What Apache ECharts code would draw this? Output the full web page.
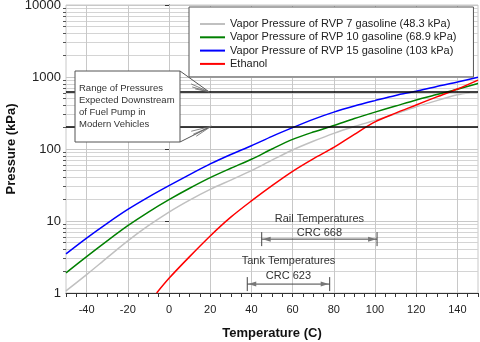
<!DOCTYPE html>
<html>
<head>
<meta charset="utf-8">
<script src="https://cdn.jsdelivr.net/npm/echarts@6/dist/echarts.min.js"></script>
<style>
  html, body { margin: 0; padding: 0; background: #fff; }
  #chart { width: 480px; height: 342px; }
</style>
</head>
<body>
<div id="chart"></div>
<script>
// Vapor pressure (kPa) against temperature (°C)
const gasTemps = [-50, -40, -30, -20, -10, 0, 10, 20, 30, 40, 50, 60, 70, 80, 90, 100, 110, 120, 130, 140, 150];
const rvp15 = [3.5, 5.8, 9.3, 14.5, 21.5, 31, 44, 62, 84, 111, 150, 198, 258, 325, 395, 470, 555, 635, 740, 850, 990];
const rvp10 = [1.9, 3.2, 5.3, 8.6, 13.3, 19.8, 28.5, 40, 54, 72, 100, 136, 172, 212, 265, 325, 395, 480, 570, 675, 810];
const rvp7Temps = [-50, -40, -30, -20, -10, 0, 10, 20, 30, 40, 50, 60, 70, 80, 90, 100, 110, 120, 130, 140, 146];
const rvp7 = [1.07, 1.8, 3.1, 5.3, 8.6, 13.3, 19.5, 27.5, 37, 50, 70, 97, 128, 165, 205, 250, 308, 385, 470, 565, 610];
const ethanolTemps = [-6, 0, 10, 20, 30, 40, 50, 60, 70, 80, 90, 100, 110, 120, 130, 140, 150];
const ethanol = [1.0, 1.6, 3.2, 6.2, 11.3, 19, 31, 49, 73, 105, 160, 238, 315, 408, 530, 680, 905];

const seriesNames = [
  'Vapor Pressure of RVP 7 gasoline (48.3 kPa)',
  'Vapor Pressure of RVP 10 gasoline (68.9 kPa)',
  'Vapor Pressure of RVP 15 gasoline (103 kPa)',
  'Ethanol'
];

// Fuel-pump pressure band (kPa) and temperature ranges (°C)
const pumpPressures = [620, 207];
const railRange = [45, 101];
const tankRange = [38, 78];
const calloutLines = ['Range of Pressures', 'Expected Downstream', 'of Fuel Pump in', 'Modern Vehicles'];
const railLabels = ['Rail Temperatures', 'CRC 668'];
const tankLabels = ['Tank Temperatures', 'CRC 623'];

// Axis ticks and grid lines
const xGridValues = [-40, -20, 0, 20, 40, 60, 80, 100, 120, 140];
const yMinorValues = [2, 3, 4, 5, 6, 7, 8, 9, 20, 30, 40, 50, 60, 70, 80, 90,
  200, 300, 400, 500, 600, 700, 800, 900, 2000, 3000, 4000, 5000, 6000, 7000, 8000, 9000];

const FONT = '"Liberation Sans", Arial, sans-serif';
const zip = (xs, ys) => xs.map((x, i) => [x, ys[i]]);

const chart = echarts.init(document.getElementById('chart'), null, { renderer: 'canvas' });

const lineSeries = (name, data, color) => ({
  name, type: 'line', data, symbol: 'none', smooth: 0.3, z: 3,
  lineStyle: { color, width: 1.5 }, itemStyle: { color },
  xAxisIndex: 0, yAxisIndex: 0
});

const option = {
  animation: false,
  backgroundColor: '#fff',
  textStyle: { fontFamily: FONT },
  grid: { left: 66, right: 2, top: 5, bottom: 49, outerBoundsMode: 'none', containLabel: false,
    show: true, borderColor: '#c8c8c8', borderWidth: 1 },
  legend: {
    data: seriesNames,
    z: 10,
    orient: 'vertical',
    left: 189, top: 7,
    padding: [11.5, 17, 7.5, 10],
    itemWidth: 25, itemHeight: 11, itemGap: 2.3,
    itemStyle: { opacity: 0 },
    lineStyle: { width: 2 },
    backgroundColor: '#fff', borderColor: '#555', borderWidth: 1,
    textStyle: { fontSize: 11, color: '#222', fontFamily: FONT }
  },
  xAxis: {
    type: 'value', min: -50, max: 150, interval: 5,
    name: 'Temperature (C)', nameLocation: 'middle', nameGap: 34, nameMoveOverlap: false,
    nameTextStyle: { fontSize: 13, fontWeight: 'bold', color: '#111', fontFamily: FONT },
    axisLine: { lineStyle: { color: '#333' } },
    axisTick: { length: 4, lineStyle: { color: '#333' } },
    axisLabel: { fontSize: 11, color: '#222', margin: 11,
      formatter: v => (v % 20 === 0 ? String(v) : '') },
    splitLine: { show: false }
  },
  yAxis: [{
    type: 'log', logBase: 10, min: 1, max: 10000,
    name: 'Pressure (kPa)', nameLocation: 'middle', nameGap: 48, nameMoveOverlap: false,
    nameTextStyle: { fontSize: 13, fontWeight: 'bold', color: '#111', fontFamily: FONT },
    axisLine: { show: true, lineStyle: { color: '#333' } },
    axisTick: { show: true, length: 4, lineStyle: { color: '#333' } },
    axisLabel: { fontSize: 13, color: '#222', margin: 5, formatter: v => String(v) },
    splitLine: { show: true, lineStyle: { color: '#c8c8c8' } }
  }, {
    type: 'log', logBase: 10, min: 1, max: 10000, position: 'left',
    axisLine: { show: false },
    axisLabel: { show: false },
    axisTick: { show: true, length: 3, customValues: yMinorValues, lineStyle: { color: '#555' } },
    splitLine: { show: true, lineStyle: { color: '#d4d4d4' } }
  }],
  series: [
    {
      name: 'grid', type: 'line', data: [], z: 1, silent: true,
      markLine: {
        z: 1, silent: true, symbol: 'none', label: { show: false },
        lineStyle: { color: '#c8c8c8', width: 1, type: 'solid' },
        data: xGridValues.map(v => ({ xAxis: v }))
      }
    },
    lineSeries(seriesNames[0], zip(rvp7Temps, rvp7), '#c0c0c0'),
    lineSeries(seriesNames[1], zip(gasTemps, rvp10), '#008000'),
    lineSeries(seriesNames[2], zip(gasTemps, rvp15), '#0000ff'),
    lineSeries(seriesNames[3], zip(ethanolTemps, ethanol), '#ff0000'),
    {
      name: 'pump', type: 'line', data: [], z: 4, silent: true,
      markLine: {
        z: 4, silent: true, symbol: 'none', label: { show: false },
        lineStyle: { color: '#000', width: 1.6, type: 'solid' },
        data: pumpPressures.map(v => ({ yAxis: v }))
      }
    }
  ]
};

chart.setOption(option);

// Annotations placed from data coordinates
const px = (x, y) => chart.convertToPixel({ xAxisIndex: 0, yAxisIndex: 0 }, [x, y]);
const Z = 50;
const graphics = [];

// Callout box with pointers to the pressure band
const box = { x: 75, y: 71, w: 105, h: 71 };
graphics.push({ type: 'rect', z: Z, shape: { x: box.x, y: box.y, width: box.w, height: box.h },
  style: { fill: '#fff', stroke: '#555', lineWidth: 1 } });
calloutLines.forEach((t, i) => graphics.push({
  type: 'text', z: Z + 1,
  style: { text: t, x: box.x + 4, y: box.y + 17 + i * 12, font: '9.5px ' + FONT, fill: '#333', verticalAlign: 'middle' }
}));
const tipHigh = px(19.5, pumpPressures[0]);
const tipLow = px(20.5, pumpPressures[1]);
const pointer = (from, tip, fan) => {
  graphics.push({ type: 'polyline', z: Z, shape: { points: [from, tip] }, style: { stroke: '#555', lineWidth: 1, fill: null } });
  fan.forEach(f => graphics.push({ type: 'polyline', z: Z,
    shape: { points: [[tip[0] + f[0], tip[1] + f[1]], tip] }, style: { stroke: '#666', lineWidth: 0.8, fill: null } }));
};
pointer([box.x + box.w, box.y], tipHigh, [[-18, -8], [-17, -5], [-14, -3]]);
pointer([box.x + box.w, box.y + box.h], tipLow, [[-20, 5], [-18, 8], [-15, 10]]);

// Temperature range markers
const rangeMarker = (range, kPa, labels, dy1, dy2) => {
  const a = px(range[0], kPa), b = px(range[1], kPa);
  const y = a[1];
  graphics.push({ type: 'polyline', z: Z, shape: { points: [[a[0], y], [b[0], y]] }, style: { stroke: '#444', lineWidth: 1, fill: null } });
  [a[0], b[0]].forEach(x => graphics.push({ type: 'polyline', z: Z,
    shape: { points: [[x, y - 7], [x, y + 7]] }, style: { stroke: '#444', lineWidth: 1, fill: null } }));
  graphics.push({ type: 'polygon', z: Z, shape: { points: [[a[0] + 1, y], [a[0] + 9, y - 2.5], [a[0] + 9, y + 2.5]] }, style: { fill: '#777' } });
  graphics.push({ type: 'polygon', z: Z, shape: { points: [[b[0] - 1, y], [b[0] - 9, y - 2.5], [b[0] - 9, y + 2.5]] }, style: { fill: '#777' } });
  const cx = (a[0] + b[0]) / 2;
  graphics.push({ type: 'text', z: Z, style: { text: labels[0], x: cx, y: y + dy1, font: '11px ' + FONT, fill: '#333', align: 'center', verticalAlign: 'middle' } });
  graphics.push({ type: 'text', z: Z, style: { text: labels[1], x: cx, y: y + dy2, font: '11px ' + FONT, fill: '#333', align: 'center', verticalAlign: 'middle' } });
};
rangeMarker(railRange, 5.6, railLabels, -20, -6);
rangeMarker(tankRange, 1.33, tankLabels, -23, -8);

chart.setOption({ graphic: { elements: graphics } });
</script>
</body>
</html>
